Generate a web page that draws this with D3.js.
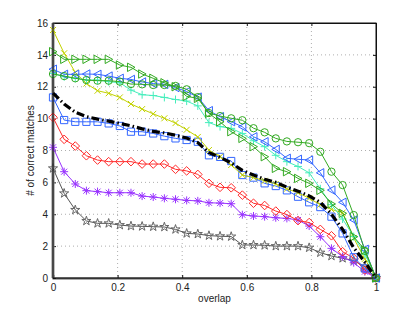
<!DOCTYPE html>
<html>
<head>
<meta charset="utf-8">
<script src="https://cdn.jsdelivr.net/npm/d3@7"></script>
<style>
  body { margin: 0; background: #fff; }
  text { font-family: "Liberation Sans", Arial, sans-serif; font-size: 10px; fill: #222; }
</style>
</head>
<body>
<svg id="chart" width="415" height="313"></svg>
<script>
// x positions of the samples (overlap threshold)
const overlap = [0, 0.0345, 0.069, 0.1034, 0.1379, 0.1724, 0.2069, 0.2414, 0.2759, 0.3103,
  0.3448, 0.3793, 0.4138, 0.4483, 0.4828, 0.5172, 0.5517, 0.5862, 0.6207, 0.6552,
  0.6897, 0.7241, 0.7586, 0.7931, 0.8276, 0.8621, 0.8966, 0.931, 0.9655, 1]

const starSeries = [6.88, 5.31, 4.27, 3.58, 3.43, 3.43, 3.32, 3.26, 3.24, 3.22, 3.2, 3.05, 2.8, 2.76, 2.66,
  2.62, 2.6, 2.07, 2.07, 2.05, 2.0, 2.0, 2.0, 1.9, 1.59, 1.38, 1.24, 1.09, 0.71, 0]
const asteriskSeries = [8.2, 6.67, 5.9, 5.48, 5.42, 5.35, 5.35, 5.35, 5.14, 5.08, 5.0, 4.94, 4.87, 4.84, 4.72,
  4.7, 4.66, 3.97, 3.89, 3.85, 3.78, 3.74, 3.64, 3.26, 2.59, 1.86, 1.34, 0.96, 0.4, 0]
const diamondSeries = [10.08, 8.7, 8.28, 7.67, 7.4, 7.3, 7.3, 7.3, 7.15, 7.15, 7.15, 6.82, 6.72, 6.5, 5.94,
  5.69, 5.66, 5.2, 4.69, 4.55, 4.2, 3.98, 3.6, 3.48, 3.05, 2.65, 1.65, 1.24, 0.5, 0]
const squareSeries = [11.33, 9.91, 9.8, 9.8, 9.8, 9.7, 9.54, 9.18, 9.18, 9.07, 8.9, 8.76, 8.66, 8.55, 7.7,
  7.6, 7.34, 6.46, 6.3, 5.94, 5.77, 5.5, 5.1, 4.75, 4.45, 3.85, 2.8, 1.3, 0.6, 0]
const crossSeries = [15.56, 14.1, 12.9, 12.2, 11.75, 11.59, 11.33, 10.92, 10.6, 10.3, 10.02, 9.72, 9.3, 8.85, 8.03,
  7.61, 7.09, 6.46, 6.3, 6.1, 5.9, 5.6, 5.35, 5.0, 4.6, 4.3, 4.1, 2.5, 1.2, 0]
const plusSeries = [12.84, 12.63, 12.53, 12.42, 12.42, 12.32, 12.25, 11.79, 11.5, 11.45, 11.33, 11.2, 11.1, 10.8, 9.75,
  9.5, 9.39, 9.07, 8.61, 8.24, 7.7, 7.3, 7.0, 6.6, 5.6, 4.6, 3.7, 2.6, 1.5, 0]
const triLeftSeries = [13.1, 12.78, 12.78, 12.8, 12.78, 12.67, 12.53, 12.46, 12.3, 12.2, 12.15, 11.95, 11.7, 11.35, 10.5,
  10.12, 9.81, 9.49, 8.86, 8.55, 8.07, 7.51, 7.45, 7.4, 6.6, 5.52, 4.75, 3.64, 1.8, 0]
const circleSeries = [12.8, 12.67, 12.53, 12.42, 12.38, 12.38, 12.32, 12.17, 12.15, 12.11, 12.11, 12.05, 11.84, 11.35, 10.35,
  10.16, 10.02, 9.9, 9.4, 9.14, 8.76, 8.57, 8.52, 8.46, 7.92, 6.67, 5.83, 3.95, 1.7, 0]
const triRightSeries = [14.2, 13.72, 13.72, 13.72, 13.72, 13.72, 13.36, 13.22, 12.8, 12.53, 12.25, 12.0, 11.4, 11.27, 10.33,
  9.8, 9.18, 8.76, 8.24, 7.61, 6.88, 6.67, 6.25, 5.94, 5.5, 4.65, 4.06, 2.59, 1.76, 0]
const meanSeries = [11.6, 10.92, 10.4, 10.12, 9.97, 9.84, 9.7, 9.55, 9.36, 9.2, 9.1, 8.96, 8.78, 8.5, 7.86,
  7.57, 7.22, 6.75, 6.46, 6.2, 6.0, 5.7, 5.45, 5.15, 4.75, 4.0, 3.05, 1.9, 1.0, 0]

const xTicks = [0, 0.2, 0.4, 0.6, 0.8, 1]
const yTicks = [0, 2, 4, 6, 8, 10, 12, 14, 16]

const series = [
  { values: starSeries, color: '#555555', marker: 'star' },
  { values: asteriskSeries, color: '#9933ff', marker: 'asterisk' },
  { values: diamondSeries, color: '#ff2a2a', marker: 'diamond' },
  { values: squareSeries, color: '#3366ff', marker: 'square' },
  { values: crossSeries, color: '#c2d200', marker: 'cross' },
  { values: plusSeries, color: '#44eebb', marker: 'plus' },
  { values: triLeftSeries, color: '#3366ff', marker: 'triLeft' },
  { values: circleSeries, color: '#33aa22', marker: 'circle' },
  { values: triRightSeries, color: '#33aa22', marker: 'triRight' }
]

const margin = { top: 23, right: 39, bottom: 35, left: 53 }
const width = 415 - margin.left - margin.right
const height = 313 - margin.top - margin.bottom

const svg = d3.select('#chart')
const g = svg.append('g').attr('transform', `translate(${margin.left},${margin.top})`)

const x = d3.scaleLinear().domain([0, 1]).range([0, width])
const y = d3.scaleLinear().domain([0, 16]).range([height, 0])

// dotted grid
g.append('g')
  .selectAll('line')
  .data(xTicks.slice(1, -1))
  .join('line')
  .attr('x1', d => x(d)).attr('x2', d => x(d))
  .attr('y1', 0).attr('y2', height)
  .attr('stroke', '#999').attr('stroke-width', 0.8).attr('stroke-dasharray', '1,3')

g.append('g')
  .selectAll('line')
  .data(yTicks.slice(1, -1))
  .join('line')
  .attr('y1', d => y(d)).attr('y2', d => y(d))
  .attr('x1', 0).attr('x2', width)
  .attr('stroke', '#999').attr('stroke-width', 0.8).attr('stroke-dasharray', '1,3')

// axes, ticks point inward like the original
const xAxis = g.append('g')
  .attr('transform', `translate(0,${height})`)
  .call(d3.axisBottom(x).tickValues(xTicks).tickSize(-3).tickPadding(6).tickFormat(d3.format('')))
const xAxisTop = g.append('g')
  .call(d3.axisTop(x).tickValues(xTicks).tickSize(-3).tickFormat(''))
const yAxis = g.append('g')
  .call(d3.axisLeft(y).tickValues(yTicks).tickSize(-3).tickPadding(5))
const yAxisRight = g.append('g')
  .attr('transform', `translate(${width},0)`)
  .call(d3.axisRight(y).tickValues(yTicks).tickSize(-3).tickFormat(''))

for (const axis of [xAxis, xAxisTop, yAxis, yAxisRight]) {
  axis.select('.domain').attr('stroke', '#111')
  axis.selectAll('.tick line').attr('stroke', '#111')
  axis.selectAll('text').attr('font-size', 10).attr('fill', '#222')
    .attr('font-family', '"Liberation Sans", Arial, sans-serif')
}
xAxis.select('.domain').attr('stroke', '#555').attr('stroke-width', 2)

// thick gray line on x = 0
g.append('line')
  .attr('x1', x(0)).attr('x2', x(0))
  .attr('y1', y(16)).attr('y2', y(0))
  .attr('stroke', '#808080').attr('stroke-width', 3)

const line = d3.line()
  .x((d, i) => x(overlap[i]))
  .y(d => y(d))

const s = 3.6
const markerPaths = {
  circle: d3.symbol(d3.symbolCircle, 42)(),
  square: `M${-s},${-s}H${s}V${s}H${-s}Z`,
  diamond: `M0,${-4.3}L${4.3},0L0,${4.3}L${-4.3},0Z`,
  triLeft: `M${-4},0L${3.5},${-4.2}L${3.5},${4.2}Z`,
  triRight: `M${4},0L${-3.5},${-4.2}L${-3.5},${4.2}Z`,
  cross: `M-3,-3L3,3M-3,3L3,-3`,
  plus: `M-4,0H4M0,-4V4`,
  asterisk: `M-4,0H4M0,-4V4M-3,-3L3,3M-3,3L3,-3`,
  star: d3.symbol(d3.symbolStar, 26)()
}

for (const serie of series) {
  const group = g.append('g')
  group.append('path')
    .attr('d', line(serie.values))
    .attr('fill', 'none')
    .attr('stroke', serie.color)
    .attr('stroke-width', 1)

  group.selectAll('path.marker')
    .data(serie.values)
    .join('path')
    .attr('class', 'marker')
    .attr('transform', (d, i) => `translate(${x(overlap[i])},${y(d)})`)
    .attr('d', markerPaths[serie.marker])
    .attr('fill', 'none')
    .attr('stroke', serie.marker === 'star' ? '#666' : serie.color)
    .attr('stroke-width', 1)
}

// mean curve, thick dash-dot black
g.append('path')
  .attr('d', line(meanSeries))
  .attr('fill', 'none')
  .attr('stroke', '#000')
  .attr('stroke-width', 3.2)
  .attr('stroke-dasharray', '8,3,1.5,3')

// frame top and right
g.append('rect')
  .attr('width', width).attr('height', height)
  .attr('fill', 'none').attr('stroke', '#111').attr('stroke-width', 1)

svg.append('text')
  .attr('x', margin.left + width / 2)
  .attr('y', 302)
  .attr('text-anchor', 'middle')
  .text('overlap')

svg.append('text')
  .attr('transform', `translate(34,${margin.top + height / 2}) rotate(-90)`)
  .attr('text-anchor', 'middle')
  .text('# of correct matches')
</script>
</body>
</html>
